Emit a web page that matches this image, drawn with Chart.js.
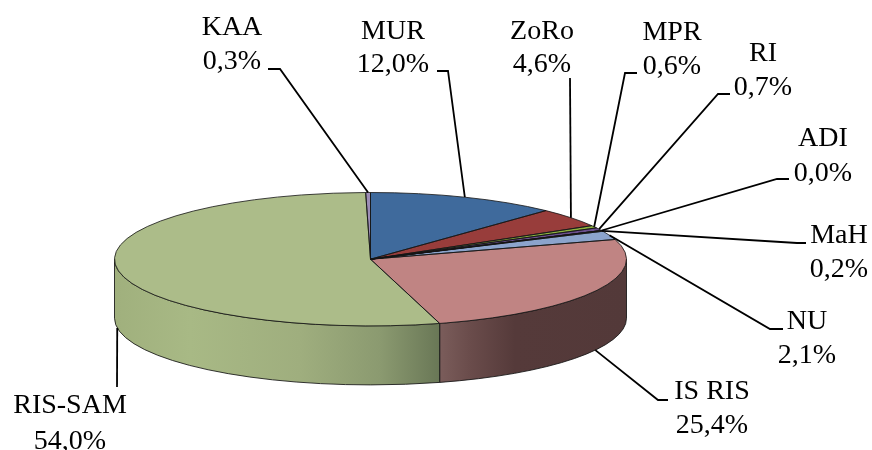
<!DOCTYPE html>
<html>
<head>
<meta charset="utf-8">
<style>html,body{margin:0;padding:0;background:#fff}canvas{display:block}</style>
<script src="https://cdn.jsdelivr.net/npm/chart.js@4"></script>
</head>
<body>
<canvas id="c" width="872" height="450"></canvas>
<script>
const categories = ["MUR","ZoRo","MPR","RI","ADI","MaH","NU","IS RIS","RIS-SAM","KAA"];
const shares = [12.0,4.6,0.6,0.7,0.0,0.2,2.1,25.4,54.0,0.3];

const faceColors = ["#3F6A9C","#983D3B","#8DB23E","#6C4F8E","#3F97AE","#D98232","#8CA4CC","#C08483","#ACBC89","#9C8DB6"];
const pie3d = {cx:370.5, cy:259.2, rx:256, ry:66.7, depth:59};
// [lineEnd x,y (by the label), elbow x,y] and text centre + two baselines
const leaders = [
  {end:[437,71], elbow:[448,71], tx:393, b:[39,72]},
  {end:[570,78], elbow:null, tx:542, b:[39,72]},
  {end:[637,73], elbow:[625,73], tx:672, b:[40,74]},
  {end:[730,94], elbow:[718,94], tx:763, b:[61,95]},
  {end:[789,179], elbow:[777,179], tx:823, b:[146,181]},
  {end:[806,243], elbow:[797,243], tx:839, b:[243,277]},
  {end:[783,329], elbow:[770,329], tx:807, b:[329,363]},
  {end:[668,400], elbow:[658,400], tx:712, b:[399,433]},
  {end:[117,387], elbow:null, tx:70, b:[413,449]},
  {end:[268,69], elbow:[280,69], tx:232, b:[35,69]}
];
const sideStops = {
  7:[[441,"#7A5C5A"],[470,"#6A4C4B"],[515,"#553A3A"],[627,"#533939"]],
  8:[[114,"#A0B07D"],[190,"#A8B985"],[300,"#9FAE7E"],[380,"#8B9A70"],[440,"#697756"]]
};

const pct = v => v.toFixed(1).replace(".", ",") + "%";

const plugin3d = {
  id: "pie3d",
  beforeDatasetsDraw(chart) {
    const ctx = chart.ctx, arcs = chart.getDatasetMeta(0).data, P = pie3d;
    const R = arcs[0].outerRadius;
    // side wall, from the library's computed arc angles
    arcs.forEach((el, i) => {
      const a0 = Math.max(el.startAngle, 0), a1 = Math.min(el.endAngle, Math.PI);
      if (a1 <= a0) return;
      const st = sideStops[i] || [[114, faceColors[i]],[627, faceColors[i]]];
      const x0 = st[0][0], x1 = st[st.length-1][0];
      const g = ctx.createLinearGradient(x0, 0, x1, 0);
      st.forEach(s => g.addColorStop((s[0]-x0)/(x1-x0), s[1]));
      ctx.beginPath();
      ctx.ellipse(P.cx, P.cy, P.rx, P.ry, 0, a0, a1);
      ctx.ellipse(P.cx, P.cy + P.depth, P.rx, P.ry, 0, a1, a0, true);
      ctx.closePath();
      ctx.fillStyle = g; ctx.fill();
      ctx.strokeStyle = "rgba(20,20,20,0.85)"; ctx.lineWidth = 1; ctx.stroke();
    });
    ctx.save();
    ctx.translate(P.cx, P.cy);
    ctx.scale(P.rx / R, P.ry / R);
    ctx.translate(-arcs[0].x, -arcs[0].y);
  },
  afterDatasetsDraw(chart) {
    const ctx = chart.ctx, arcs = chart.getDatasetMeta(0).data, P = pie3d;
    ctx.restore();
    // slice outlines on the squashed top face
    arcs.forEach(el => {
      ctx.beginPath();
      ctx.moveTo(P.cx, P.cy);
      ctx.ellipse(P.cx, P.cy, P.rx, P.ry, 0, el.startAngle, el.endAngle);
      ctx.closePath();
      ctx.strokeStyle = "rgba(20,20,20,0.8)"; ctx.lineWidth = 1; ctx.stroke();
    });
    // leaders and labels
    ctx.lineWidth = 1.8; ctx.strokeStyle = "#000"; ctx.fillStyle = "#000";
    ctx.font = '28px "Liberation Serif"'; ctx.textAlign = "center"; ctx.textBaseline = "alphabetic";
    arcs.forEach((el, i) => {
      const m = (el.startAngle + el.endAngle) / 2;
      const ax = P.cx + P.rx * Math.cos(m);
      let ay = P.cy + P.ry * Math.sin(m);
      if (Math.sin(m) > 0) ay += P.depth;
      const L = leaders[i];
      ctx.beginPath();
      ctx.moveTo(ax, ay);
      if (L.elbow) ctx.lineTo(L.elbow[0], L.elbow[1]);
      ctx.lineTo(L.end[0], L.end[1]);
      ctx.stroke();
      ctx.fillText(categories[i], L.tx, L.b[0]);
      ctx.fillText(pct(shares[i]), L.tx, L.b[1]);
    });
  }
};

new Chart(document.getElementById("c"), {
  type: "pie",
  data: { labels: categories, datasets: [{ data: shares, backgroundColor: faceColors, borderWidth: 0, clip: false }] },
  options: {
    responsive: false,
    animation: false,
    layout: { padding: 0 },
    plugins: { legend: { display: false }, tooltip: { enabled: false } }
  },
  plugins: [plugin3d]
});
</script>
</body>
</html>
